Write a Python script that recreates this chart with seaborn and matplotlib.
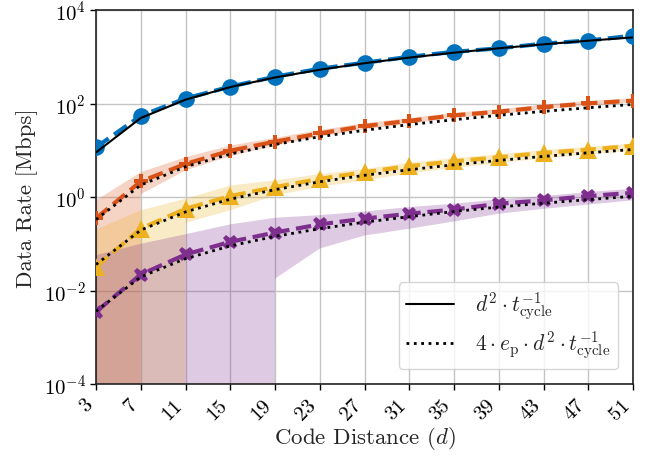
import matplotlib
matplotlib.use("Agg")
import matplotlib.pyplot as plt
from matplotlib.lines import Line2D
import numpy as np
import pandas as pd
import seaborn as sns

# ---------------- data ----------------
code_distance = [3, 7, 11, 15, 19, 23, 27, 31, 35, 39, 43, 47, 51]

blue_rate = [11.6, 54.5, 128, 230, 375, 556, 745, 1000, 1277, 1515, 1910, 2230, 2830]
orange_rate = [0.35, 2.15, 5.1, 9.8, 15.3, 23, 33, 42.6, 56, 67, 84, 101, 115]
yellow_rate = [0.032, 0.21, 0.56, 1.05, 1.63, 2.45, 3.4, 4.6, 5.8, 7.1, 8.8, 10.3, 12.5]
purple_rate = [0.0035, 0.022, 0.059, 0.11, 0.174, 0.26, 0.345, 0.44, 0.54, 0.72, 0.85, 1.05, 1.23]

orange_upper = [0.85, 3.4, 7.1, 12.6, 18.5, 27, 38, 49, 63, 76, 94, 113, 130]
orange_lower = [0, 1.15, 3.7, 7.5, 12.5, 19.5, 28, 37, 49, 59, 75, 90, 106]
yellow_upper = [0.2, 0.52, 0.92, 1.77, 2.26, 3.1, 4.0, 5.4, 6.8, 8.2, 10.1, 11.9, 14]
yellow_lower = [0, 0, 0.28, 0.52, 1.08, 1.65, 2.26, 3.2, 4.2, 5.3, 6.7, 8.1, 9.8]
purple_upper = [0.057, 0.1, 0.16, 0.26, 0.36, 0.41, 0.49, 0.61, 0.72, 0.89, 1.05, 1.28, 1.5]
purple_lower = [0, 0, 0, 0, 0.018, 0.079, 0.15, 0.21, 0.30, 0.44, 0.56, 0.69, 0.85]

ref_solid = [9, 49, 121, 225, 361, 529, 729, 961, 1225, 1521, 1849, 2209, 2601]
ref_dotted_orange = [0.33, 1.80, 4.45, 8.3, 13.3, 19.5, 26.8, 35.4, 45.1, 56.0, 68.0, 81.3, 95.7]
ref_dotted_yellow = [0.036, 0.196, 0.48, 0.9, 1.44, 2.12, 2.92, 3.84, 4.9, 6.08, 7.4, 8.84, 10.4]
ref_dotted_purple = [0.0036, 0.0196, 0.048, 0.09, 0.144, 0.21, 0.29, 0.38, 0.49, 0.61, 0.74, 0.88, 1.04]

legend_labels = [r"$d^2 \cdot t_{\mathrm{cycle}}^{-1}$",
                 r"$4 \cdot e_{\mathrm{p}} \cdot d^2 \cdot t_{\mathrm{cycle}}^{-1}$"]
x_label = r"Code Distance ($d$)"
y_label = "Data Rate [Mbps]"

# ---------------- style ----------------
sns.set_style("whitegrid")
plt.rcParams.update({
    "font.family": ["cmr10", "DejaVu Serif"],
    "mathtext.fontset": "cm",
    "axes.formatter.use_mathtext": True,
    "axes.unicode_minus": True,
    "grid.color": "#c4c4c4",
    "grid.linewidth": 1.0,
    "axes.edgecolor": "#222222",
    "axes.linewidth": 1.2,
    "xtick.bottom": True,
    "ytick.left": True,
    "xtick.direction": "out",
    "ytick.direction": "out",
    "xtick.major.size": 4,
    "ytick.major.size": 4,
})

c_blue = "#0072BD"
c_orange = "#D95319"
c_yellow = "#EDB120"
c_purple = "#7E2F8E"

fig, ax = plt.subplots(figsize=(6.46, 4.6), dpi=100)
fig.subplots_adjust(left=0.1486, right=0.98, top=0.976, bottom=0.163)

ax.set_yscale("log")

# bands
for up, lo, col in [(orange_upper, orange_lower, c_orange),
                    (yellow_upper, yellow_lower, c_yellow),
                    (purple_upper, purple_lower, c_purple)]:
    ax.fill_between(code_distance, lo, up, color=col, alpha=0.25, linewidth=0, zorder=1)

df = pd.DataFrame({
    "d": code_distance * 4,
    "rate": blue_rate + orange_rate + yellow_rate + purple_rate,
    "series": (["blue"] * 13 + ["orange"] * 13 + ["yellow"] * 13 + ["purple"] * 13),
})

specs = {
    "blue": (c_blue, "o", 12),
    "orange": (c_orange, "P", 10.5),
    "yellow": (c_yellow, "^", 12.5),
    "purple": (c_purple, "X", 10.5),
}
for name, (col, mk, ms) in specs.items():
    sub = df[df["series"] == name]
    sns.lineplot(data=sub, x="d", y="rate", ax=ax, color=col, linestyle="--",
                 linewidth=3, marker=mk, markersize=ms, markeredgewidth=0,
                 zorder=3, legend=False)

sns.lineplot(x=code_distance, y=ref_solid, ax=ax, color="black", linewidth=1.5,
             zorder=4, legend=False)
for ref in [ref_dotted_orange, ref_dotted_yellow, ref_dotted_purple]:
    sns.lineplot(x=code_distance, y=ref, ax=ax, color="black", linewidth=2,
                 linestyle=":", zorder=4, legend=False)

ax.set_xlim(3, 51)
ax.set_ylim(1e-4, 1e4)
ax.set_xticks(code_distance)
ax.set_xticklabels([str(v) for v in code_distance], rotation=45, ha="right",
                   rotation_mode="default")
ax.set_yticks([1e-4, 1e-2, 1e0, 1e2, 1e4])
ax.yaxis.set_minor_locator(matplotlib.ticker.NullLocator())
ax.tick_params(axis="both", labelsize=15, colors="black", width=1)
ax.tick_params(axis="x", pad=4)
ax.set_xlabel(x_label, fontsize=16.5, labelpad=1)
ax.set_ylabel(y_label, fontsize=16.5, labelpad=4)
ax.grid(True, which="major")

handles = [Line2D([], [], color="black", linewidth=1.5),
           Line2D([], [], color="black", linewidth=2, linestyle=":")]
ax.legend(handles, legend_labels, loc="lower right", fontsize=15.5,
          frameon=True, framealpha=0.8, edgecolor="#cccccc", handlelength=2.2,
          handletextpad=1.0, borderpad=0.35, labelspacing=0.3,
          borderaxespad=0.7)

fig.savefig("out.png", dpi=100)
